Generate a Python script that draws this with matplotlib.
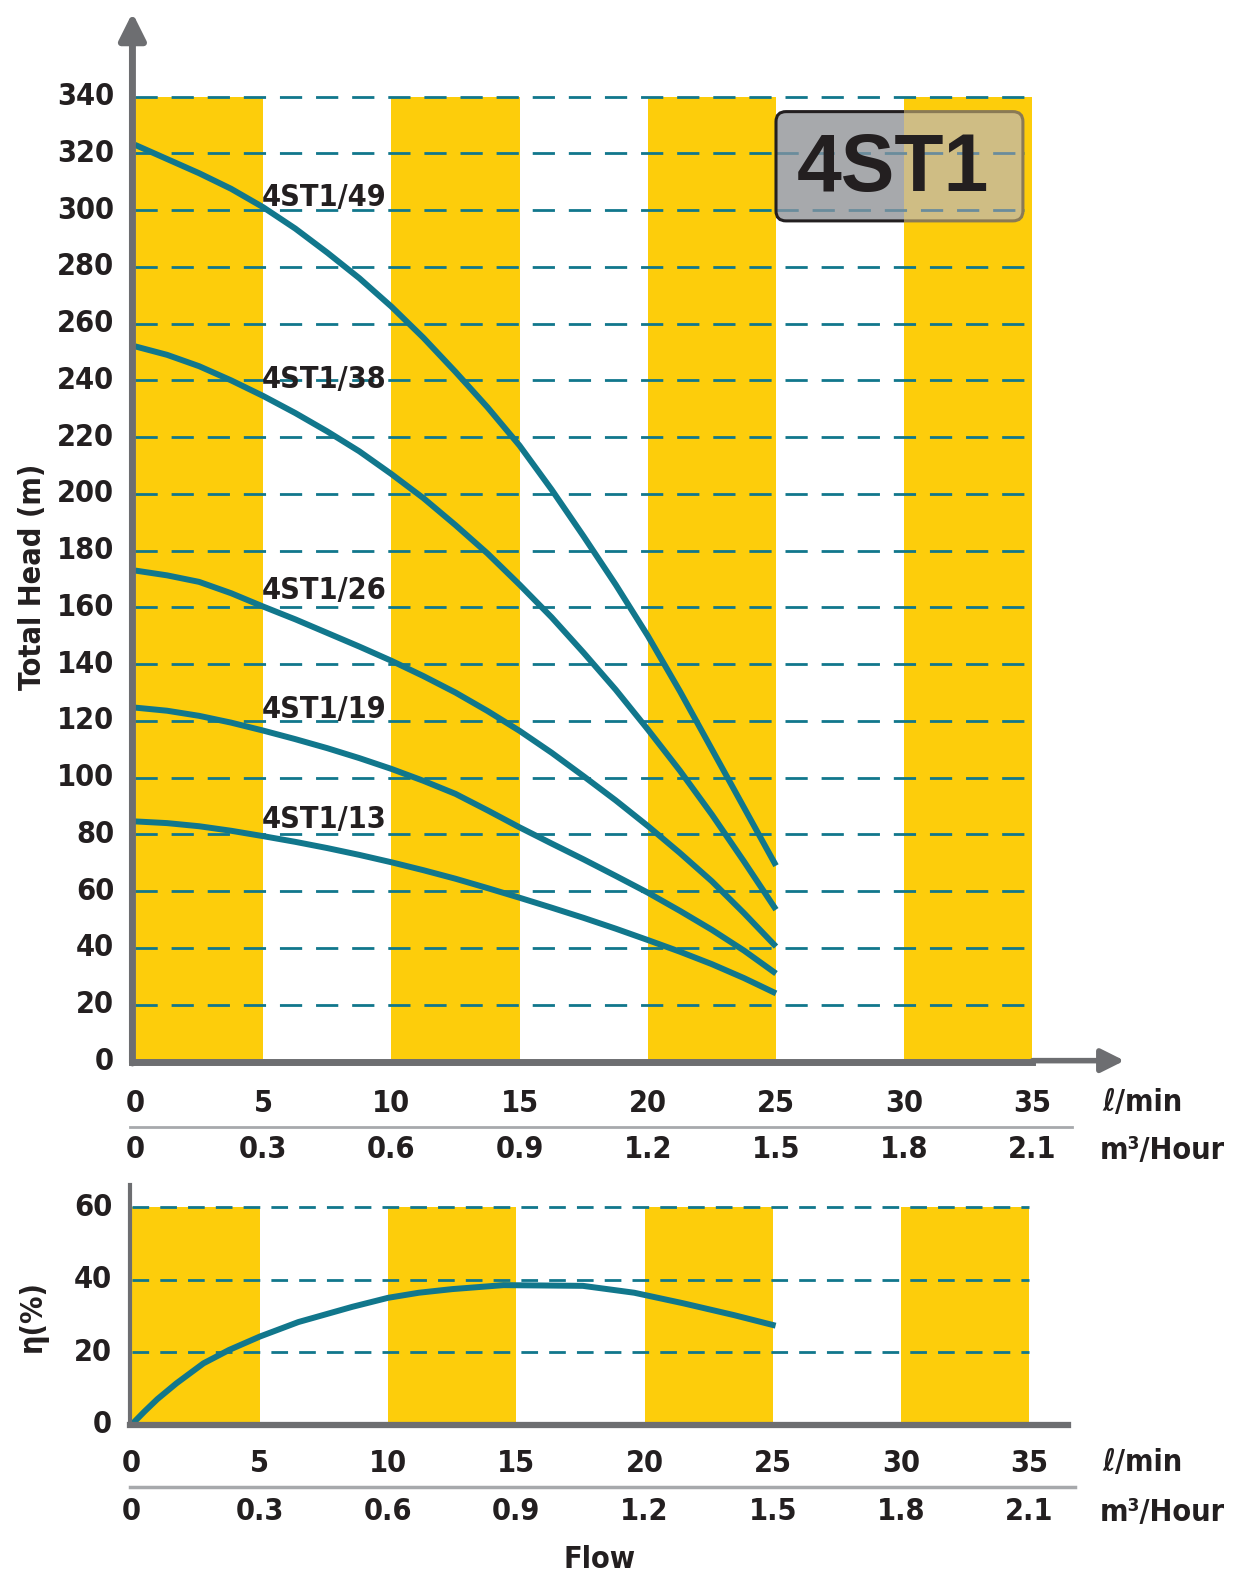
import numpy as np
import matplotlib
matplotlib.use("Agg")
import matplotlib.pyplot as plt
from matplotlib.patches import FancyBboxPatch, Rectangle
from matplotlib.transforms import blended_transform_factory

# Données (débit en l/min, hauteur en m)
flow_lmin = [0, 1.25, 2.5, 3.75, 5, 6.25, 7.5, 8.75, 10, 11.25, 12.5,
             13.75, 15, 16.25, 17.5, 18.75, 20, 21.25, 22.5, 23.75, 25]
head_49 = [323, 318, 313, 307.5, 301, 293.5, 285, 276, 266, 255, 243,
           230.5, 217, 201.5, 185, 168, 150, 130.5, 110, 89.5, 69]
head_38 = [252, 249, 245, 240, 234.5, 228.5, 222, 215, 207, 198.5, 189,
           179, 168, 156.5, 144, 131, 117, 102.5, 87, 70.5, 53.5]
head_26 = [173, 171.3, 169, 165, 160.3, 155.8, 151, 146.2, 141.2, 135.8, 130,
           123.5, 116.5, 108.8, 100.5, 92, 83, 73.5, 63.5, 52.3, 40.5]
head_19 = [124.7, 123.6, 121.8, 119.4, 116.6, 113.6, 110.4, 106.9, 103.1, 98.9, 94.3,
           88.5, 82.5, 76.8, 71.2, 65.4, 59.5, 53.1, 46.4, 39.1, 31]
head_13 = [84.6, 84, 82.9, 81.3, 79.4, 77.4, 75.2, 72.8, 70.2, 67.4, 64.4,
           61.1, 57.7, 54.2, 50.6, 46.8, 42.8, 38.7, 34.3, 29.4, 24]
curve_names = ["4ST1/49", "4ST1/38", "4ST1/26", "4ST1/19", "4ST1/13"]
label_y = [304.6, 240.4, 166, 123.9, 85.2]

# rendement
eff_flow = [0, 0.5, 1, 1.75, 2.8, 3.8, 5, 6.5, 8.6, 10, 11.2, 12.5, 14.5,
            17.6, 19.6, 21.5, 23.5, 25]
eff = [0, 3.6, 7, 11.4, 16.9, 20.6, 24.3, 28.3, 32.5, 35, 36.4, 37.4, 38.5,
       38.3, 36.4, 33.5, 30.2, 27.5]

lmin_ticks = [0, 5, 10, 15, 20, 25, 30, 35]
m3h_labels = ["0", "0.3", "0.6", "0.9", "1.2", "1.5", "1.8", "2.1"]
head_ticks = list(range(0, 341, 20))
eff_ticks = [0, 20, 40, 60]

W, H = 1234, 1575
YELLOW = "#fdcd0b"
TEAL = "#11778c"
GRAY = "#6d6e71"
DARK = "#231f20"
FONT = ["DejaVu Sans"]
TXT = dict(fontsize=22, fontweight="bold", family=FONT, fontstretch="condensed", color=DARK)

fig = plt.figure(figsize=(W / 100, H / 100), dpi=100)


def fx(px):
    return px / W


def fy(py):
    return 1 - py / H


def add_ax(x0, x1, y_top, y_bot):
    return fig.add_axes([fx(x0), fy(y_bot), fx(x1) - fx(x0), fy(y_top) - fy(y_bot)])


# ---------- graphique du haut : hauteur ----------
sx, sy = 25.64, 2.838
ax = add_ax(135, 1127, 10, 1061.5)
ax.set_xlim(0, 992 / sx)
ax.set_ylim(0, 1051.5 / sy)
ax.axis("off")

for x0 in [0, 10, 20, 30]:
    ax.add_patch(Rectangle((x0, 0), 5, 340, color=YELLOW, lw=0, zorder=0))
for yv in head_ticks[1:]:
    ax.plot([0, 35], [yv, yv], color=TEAL, lw=2, dashes=(8, 5), zorder=1)

for h, name, ly in zip([head_49, head_38, head_26, head_19, head_13], curve_names, label_y):
    ax.plot(flow_lmin, h, color=TEAL, lw=4.3, zorder=3, solid_capstyle="butt")
    ax.text(4.95, ly, name, ha="left", va="center", zorder=4, **TXT)

# axes avec flèches
ax.plot([-0.1, 35], [0, 0], color=GRAY, lw=5, zorder=5, clip_on=False)
ax.annotate("", xy=(38.7, 0.3), xytext=(34.9, 0.3),
            arrowprops=dict(arrowstyle="-|>", lw=4, color=GRAY, mutation_scale=35),
            annotation_clip=False, zorder=5)
ax.annotate("", xy=(-0.1, 370.5), xytext=(-0.1, -1.5),
            arrowprops=dict(arrowstyle="-|>", lw=5, color=GRAY, mutation_scale=40),
            annotation_clip=False, zorder=5)

ytr = blended_transform_factory(fig.transFigure, ax.transData)
for yv in head_ticks:
    ax.text(fx(114), yv, str(yv), transform=ytr, ha="right", va="center", **TXT)

xtr = blended_transform_factory(ax.transData, fig.transFigure)
for xv, lab in zip(lmin_ticks, m3h_labels):
    ax.text(xv, fy(1103), str(xv), transform=xtr, ha="center", va="center", **TXT)
    ax.text(xv, fy(1150), lab, transform=xtr, ha="center", va="center", **TXT)
fig.add_artist(plt.Line2D([fx(130), fx(1072)], [fy(1127), fy(1127)], color="#a7a9ac", lw=2))
fig.text(fx(1102), fy(1103), "ℓ/min", ha="left", va="center", **TXT)
fig.text(fx(1100), fy(1150), "m³/Hour", ha="left", va="center", **TXT)
fig.text(fx(33), fy(577), "Total Head (m)", rotation=90, ha="center", va="center", **TXT)

# badge "4ST1"
bx0, bx1, by0, by1, bsplit = 25.0, 34.63, 296.2, 334.7, 29.98
rx = 10 / sx
asp = (10 / sy) / rx
box_kw = dict(boxstyle=f"round,pad=0,rounding_size={rx}", mutation_aspect=asp)
badge = FancyBboxPatch((bx0, by0), bx1 - bx0, by1 - by0, facecolor="#a7a9ac",
                       edgecolor="none", zorder=6, **box_kw)
ax.add_patch(badge)
right_half = Rectangle((bsplit, by0 - 2), 6, 45, facecolor="#cfbd84", edgecolor="none", zorder=6)
ax.add_patch(right_half)
right_half.set_clip_path(badge)
for yv in [300, 320]:
    ln, = ax.plot([bx0, bx1], [yv, yv], color="#6a8c9c", lw=2, dashes=(8, 5), zorder=6.5)
    ln.set_clip_path(badge)
edge_l = FancyBboxPatch((bx0, by0), bx1 - bx0, by1 - by0, facecolor="none",
                        edgecolor=DARK, lw=2.2, zorder=7, **box_kw)
ax.add_patch(edge_l)
edge_l.set_clip_path(Rectangle((bx0 - 1, by0 - 5), bsplit - bx0 + 1, 50, transform=ax.transData))
edge_r = FancyBboxPatch((bx0, by0), bx1 - bx0, by1 - by0, facecolor="none",
                        edgecolor="#8a7a55", lw=2.2, zorder=7, **box_kw)
ax.add_patch(edge_r)
edge_r.set_clip_path(Rectangle((bsplit, by0 - 5), 6, 50, transform=ax.transData))
ax.text((893 - 135) / sx, 314, "4ST1", fontsize=58, fontweight="bold",
        family=["Liberation Sans", "DejaVu Sans"], color=DARK, ha="center", va="center", zorder=8)

# ---------- graphique du bas : rendement ----------
ex, ey = 25.64, 3.62
ax2 = add_ax(131.7, 1068, 1185, 1424.5)
ax2.set_xlim(0, 936.3 / ex)
ax2.set_ylim(0, 239.5 / ey)
ax2.axis("off")
for x0 in [0, 10, 20, 30]:
    ax2.add_patch(Rectangle((x0, 0), 5, 60, color=YELLOW, lw=0, zorder=0))
for yv in eff_ticks[1:]:
    ax2.plot([0, 35], [yv, yv], color=TEAL, lw=2, dashes=(6, 4), zorder=1)
ax2.plot(eff_flow, eff, color=TEAL, lw=4.3, zorder=3)
ax2.plot([-0.05, 936.3 / ex], [0, 0], color=GRAY, lw=4.5, zorder=5, clip_on=False)
ax2.plot([-0.05, -0.05], [0, 239.5 / ey], color=GRAY, lw=3, zorder=5, clip_on=False)

ytr2 = blended_transform_factory(fig.transFigure, ax2.transData)
for yv in eff_ticks:
    ax2.text(fx(112), yv, str(yv), transform=ytr2, ha="right", va="center", **TXT)
xtr2 = blended_transform_factory(ax2.transData, fig.transFigure)
for xv, lab in zip(lmin_ticks, m3h_labels):
    ax2.text(xv, fy(1463), str(xv), transform=xtr2, ha="center", va="center", **TXT)
    ax2.text(xv, fy(1512), lab, transform=xtr2, ha="center", va="center", **TXT)
fig.add_artist(plt.Line2D([fx(130), fx(1075)], [fy(1487), fy(1487)], color="#a7a9ac", lw=2.5))
fig.text(fx(1102), fy(1463), "ℓ/min", ha="left", va="center", **TXT)
fig.text(fx(1100), fy(1512), "m³/Hour", ha="left", va="center", **TXT)
fig.text(fx(33), fy(1316), "η(%)", rotation=90, ha="center", va="center", **TXT)
fig.text(fx(600), fy(1560), "Flow", ha="center", va="center", **TXT)

fig.savefig("out.png", dpi=100, facecolor="white")
